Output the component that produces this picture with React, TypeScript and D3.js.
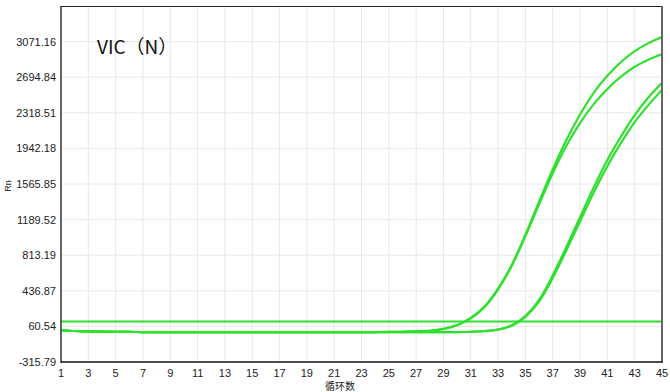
import React from "react";
import * as d3 from "d3";

const cycles: number[] = Array.from({ length: 45 }, (_, i) => i + 1);

const yTicks: number[] = [-315.79, 60.54, 436.87, 813.19, 1189.52, 1565.85, 1942.18, 2318.51, 2694.84, 3071.16];
const xTicks: number[] = [1, 3, 5, 7, 9, 11, 13, 15, 17, 19, 21, 23, 25, 27, 29, 31, 33, 35, 37, 39, 41, 43, 45];

const thresholdValue = 112;

const seriesA1: number[] = [
  20, 12, 8, 5, 3, 2, 1, 0, 0, 0, -1, -1, -1, -1, -1, -1, -1, -1, -1, -1, 0, 0, 0, 1, 2, 4, 7, 14, 35, 75,
  150, 270, 460, 710, 1030, 1380, 1720, 2030, 2300, 2530, 2710, 2855, 2970, 3055, 3120,
];
const seriesA2: number[] = [
  20, 12, 8, 5, 3, 2, 1, 0, 0, 0, -1, -1, -1, -1, -1, -1, -1, -1, -1, -1, 0, 0, 0, 1, 2, 4, 7, 13, 33, 72,
  145, 264, 452, 700, 1015, 1350, 1680, 1970, 2210, 2410, 2570, 2700, 2805, 2880, 2940,
];
const seriesB1: number[] = [
  20, 12, 8, 5, 3, 2, 1, 0, 0, 0, -1, -1, -1, -1, -1, -1, -1, -1, -1, -1, -1, -1, -1, -1, 0, 0, 0, 0, 0, 1,
  4, 12, 28, 72, 170, 340, 600, 900, 1215, 1530, 1820, 2070, 2295, 2480, 2635,
];
const seriesB2: number[] = [
  20, 12, 8, 5, 3, 2, 1, 0, 0, 0, -1, -1, -1, -1, -1, -1, -1, -1, -1, -1, -1, -1, -1, -1, 0, 0, 0, 0, 0, 1,
  4, 11, 26, 68, 162, 322, 572, 865, 1170, 1475, 1755, 2000, 2220, 2400, 2560,
];

const allSeries = [seriesA1, seriesA2, seriesB1, seriesB2];

const W = 670;
const H = 392;
const left = 61;
const right = 662;
const top = 6;
const bottom = 362;

export default function App() {
  const x = d3.scaleLinear().domain([1, 45]).range([left, right]);
  const y = d3.scaleLinear().domain([-315.79, 3447.51]).range([bottom, top]);
  const line = d3
    .line<number>()
    .x((_, i) => x(cycles[i]))
    .y((d) => y(d))
    .curve(d3.curveMonotoneX);

  const green = "#2fe02f";

  return (
    <svg
      width={W}
      height={H}
      style={{ position: "absolute", left: 0, top: 0, background: "#fff" }}
      fontFamily="'Liberation Sans', Arial, sans-serif"
    >
      <rect x={0} y={0} width={W} height={H} fill="#fff" />
      <defs>
        <clipPath id="clip">
          <rect x={left} y={top} width={right - left} height={bottom - top} />
        </clipPath>
      </defs>
      {/* grid */}
      {xTicks.slice(1, -1).map((t) => (
        <line key={"gx" + t} x1={x(t)} x2={x(t)} y1={top} y2={bottom} stroke="#e8e8e8" strokeWidth={1} />
      ))}
      {yTicks.slice(1).map((t) => (
        <line key={"gy" + t} x1={left} x2={right} y1={y(t)} y2={y(t)} stroke="#e8e8e8" strokeWidth={1} />
      ))}
      {/* threshold */}
      <line x1={left} x2={right} y1={y(thresholdValue)} y2={y(thresholdValue)} stroke={green} strokeWidth={2} />
      {/* curves */}
      <g clipPath="url(#clip)">
        {allSeries.map((s, i) => (
          <path key={i} d={line(s) || ""} fill="none" stroke={green} strokeWidth={2.2} />
        ))}
      </g>
      {/* frame */}
      <line x1={left} x2={right} y1={top + 0.5} y2={top + 0.5} stroke="#222" strokeWidth={1} />
      <line x1={right} x2={right} y1={top} y2={bottom} stroke="#666" strokeWidth={2} />
      <line x1={left} x2={left} y1={top} y2={bottom + 1} stroke="#333" strokeWidth={1.5} />
      <line x1={left} x2={right + 1} y1={bottom} y2={bottom} stroke="#111" strokeWidth={1.5} />
      {/* y tick labels */}
      {yTicks.map((t) => (
        <text key={"ty" + t} x={56} y={y(t) + 4} textAnchor="end" fontSize={11} fill="#222">
          {t.toFixed(2)}
        </text>
      ))}
      {/* x tick labels */}
      {xTicks.map((t) => (
        <text key={"tx" + t} x={x(t)} y={377} textAnchor="middle" fontSize={11} fill="#222">
          {t}
        </text>
      ))}
      <text x={340} y={390} textAnchor="middle" fontSize={10} fill="#222" fontFamily="'Noto Sans CJK SC', sans-serif">
        循环数
      </text>
      <text
        transform="translate(11,186) rotate(-90)"
        textAnchor="middle"
        fontSize={9}
        fill="#222"
      >
        Rn
      </text>
      <text x={97} y={54} fontSize={19} fill="#111" fontFamily="'Noto Sans CJK SC', sans-serif">
        VIC（N）
      </text>
    </svg>
  );
}
